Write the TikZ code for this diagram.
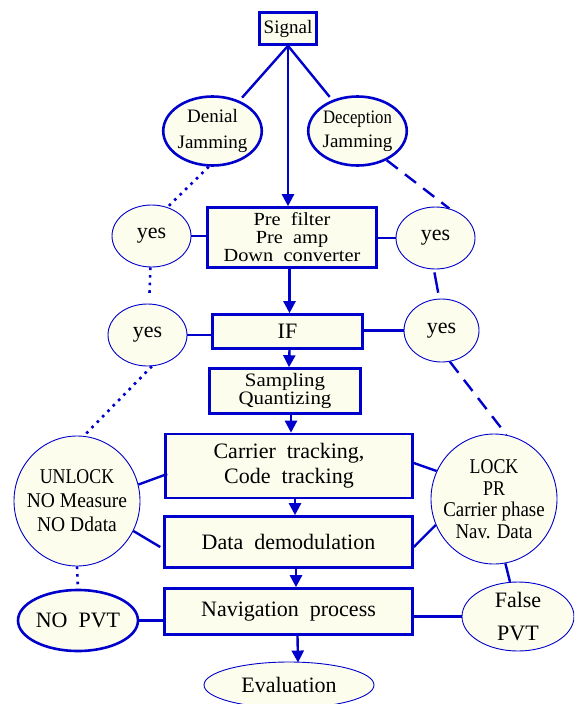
\documentclass[tikz,border=0pt]{standalone}
\usepackage{fontspec}
\setmainfont{Liberation Serif}
\usetikzlibrary{shapes.geometric,arrows.meta,calc}
\definecolor{bl}{RGB}{0,0,205}
\definecolor{iv}{RGB}{253,253,238}
\begin{document}
\begin{tikzpicture}[x=1pt,y=-1pt,
 box/.style={draw=bl,fill=iv,line width=2.6pt,inner sep=0pt,align=center,font=\fontsize{22}{17}\selectfont},
 ell/.style={ellipse,draw=bl,fill=iv,line width=0.9pt,inner sep=0pt,align=center},
 thickell/.style={ell,line width=2.6pt},
 link/.style={draw=bl,line width=2.4pt},
 arr/.style={link,-{Triangle[width=12pt,length=12pt]}},
 dots/.style={link,line width=2.6pt,dash pattern=on 2.6pt off 5pt},
 dsh/.style={link,dash pattern=on 14pt off 9pt},
 bigtxt/.style={font=\fontsize{22}{17}\selectfont},
 inner/.style={align=center,inner sep=0pt}
]
\clip (0,0) rectangle (574,704);
\fill[white] (0,0) rectangle (574,704);

% boxes
\node[box,minimum width=57pt,minimum height=32pt,font=\fontsize{19}{19}\selectfont] (sig) at (288,28.5) {Signal};
\node[box,minimum width=169pt,minimum height=60pt,font=\fontsize{18.5}{18}\selectfont] (pre) at (292,237.5) {\scalebox{1.1}[1]{Pre\ \ filter}\\\scalebox{1.1}[1]{Pre\ \ amp}\\\scalebox{1.1}[1]{Down\ \ converter}};
\node[box,minimum width=150pt,minimum height=34pt] (if) at (287.5,331.5) {IF};
\node[box,minimum width=151pt,minimum height=45pt,font=\fontsize{19}{18.5}\selectfont] (smp) at (285,391) {\scalebox{1.1}[1]{Sampling}\\\scalebox{1.1}[1]{Quantizing}};
\node[box,minimum width=247pt,minimum height=64pt,font=\fontsize{22}{25}\selectfont] (ct) at (289,466) {Carrier\ \ tracking,\\Code\ \ tracking};
\node[box,minimum width=248pt,minimum height=51pt] (dd) at (288.5,542) {Data\ \ demodulation};
\node[box,minimum width=248pt,minimum height=46pt] (nav) at (288.5,611.5) {Navigation\ \ process};

% ellipses
\node[thickell,minimum width=97pt,minimum height=69pt,font=\fontsize{19}{26}\selectfont] (den) at (212.5,131) {Denial\\Jamming};
\node[thickell,minimum width=97pt,minimum height=69pt,font=\fontsize{19}{24}\selectfont] (dec) at (357.5,131) {\scalebox{0.88}[1]{Deception}\\Jamming};
\node[ell,minimum width=79pt,minimum height=62pt,bigtxt] (yl1) at (151.5,236) {yes};
\node[ell,minimum width=79pt,minimum height=62pt,bigtxt] (yr1) at (435.5,238) {yes};
\node[ell,minimum width=79pt,minimum height=62pt,bigtxt] (yl2) at (147.5,335) {yes};
\node[ell,minimum width=75pt,minimum height=63pt,bigtxt] (yr2) at (441.5,330.5) {yes};
\node[ell,minimum width=126pt,minimum height=130pt] (ul) at (77,501) {};
\node[inner,font=\fontsize{21}{24}\selectfont] (ultxt) at (ul.center) {\scalebox{0.85}[1]{UNLOCK}\\\scalebox{0.93}[1]{NO Measure}\\\scalebox{0.93}[1]{NO Ddata}};
\node[ell,minimum width=126pt,minimum height=130pt] (lk) at (494,499) {};
\node[inner,font=\fontsize{21}{21.5}\selectfont] (lktxt) at (lk.center) {\scalebox{0.85}[1]{LOCK}\\\scalebox{0.85}[1]{PR}\\\scalebox{0.9}[1]{Carrier phase}\\\scalebox{0.9}[1]{Nav. Data}};
\node[thickell,minimum width=120pt,minimum height=61pt,bigtxt] (np) at (78,620.5) {NO\ \ PVT};
\node[ell,minimum width=112pt,minimum height=69pt] (fp) at (518,616.5) {};
\node[inner,font=\fontsize{22}{33}\selectfont] (fptxt) at (fp.center) {False\\PVT};
\node[ell,minimum width=170pt,minimum height=46pt,bigtxt] (ev) at (289,685) {Evaluation};

% signal connectors
\draw[link,shorten >=4pt] (sig.south) -- (den);
\draw[link,shorten >=4pt] (sig.south) -- (dec);
\draw[arr] (sig.south) -- (sig.south |- pre.north);

% main flow
\draw[arr] (pre.south -| if.north) ++(2,0) -- ($(if.north)+(2,0)$);
\draw[arr] ($(if.south)+(2,0)$) -- ($(smp.north)+(4,0)$);
\draw[arr] ($(smp.south)+(6,0)$) -- ($(ct.north)+(2,0)$);
\draw[arr] ($(ct.south)+(6,0)$) -- ($(dd.north)+(6.5,0)$);
\draw[arr] ($(dd.south)+(7.5,0)$) -- ($(nav.north)+(7.5,0)$);
\draw[arr] ($(nav.south)+(9,0)$) -- ($(ev.north)+(9,1)$);

% denial side (dotted)
\draw[dots] (den.-96) -- (yl1.61);
\draw[dots,shorten >=6pt] (yl1.-92) -- (yl2.87);
\draw[dots] (yl2.-82) -- (ul.84);
\draw[dots,shorten >=4pt] (ul.south) -- (np.north);

% deception side (dashed)
\draw[dsh] (dec.-45) -- (yr1.65);
\draw[link,shorten <=3pt,shorten >=6pt] (yr1.-93) -- (yr2.94);
\draw[dsh] (yr2.-75) -- (lk.79);
\draw[link] (lk.-80) -- (fp.103);

% side links
\draw[link] (yl1) -- (pre.west |- yl1);
\draw[link] (yr1) -- (pre.east |- yr1);
\draw[link] (yl2) -- (if.west |- yl2);
\draw[link] (yr2) -- (if.east |- yr2);
\draw[link] (ul.15) -- ($(ct.west)+(3,8)$);
\draw[link] (ul.-28) -- ($(dd.west)+(-3,5)$);
\draw[link] ($(ct.east)+(0,-3)$) -- (lk.154);
\draw[link] ($(dd.east)+(0,5)$) -- (lk.204);
\draw[link] (np.east) -- (nav.west |- np.east);
\draw[link] (nav.east |- fp.west) -- (fp.west);
\end{tikzpicture}
\end{document}
